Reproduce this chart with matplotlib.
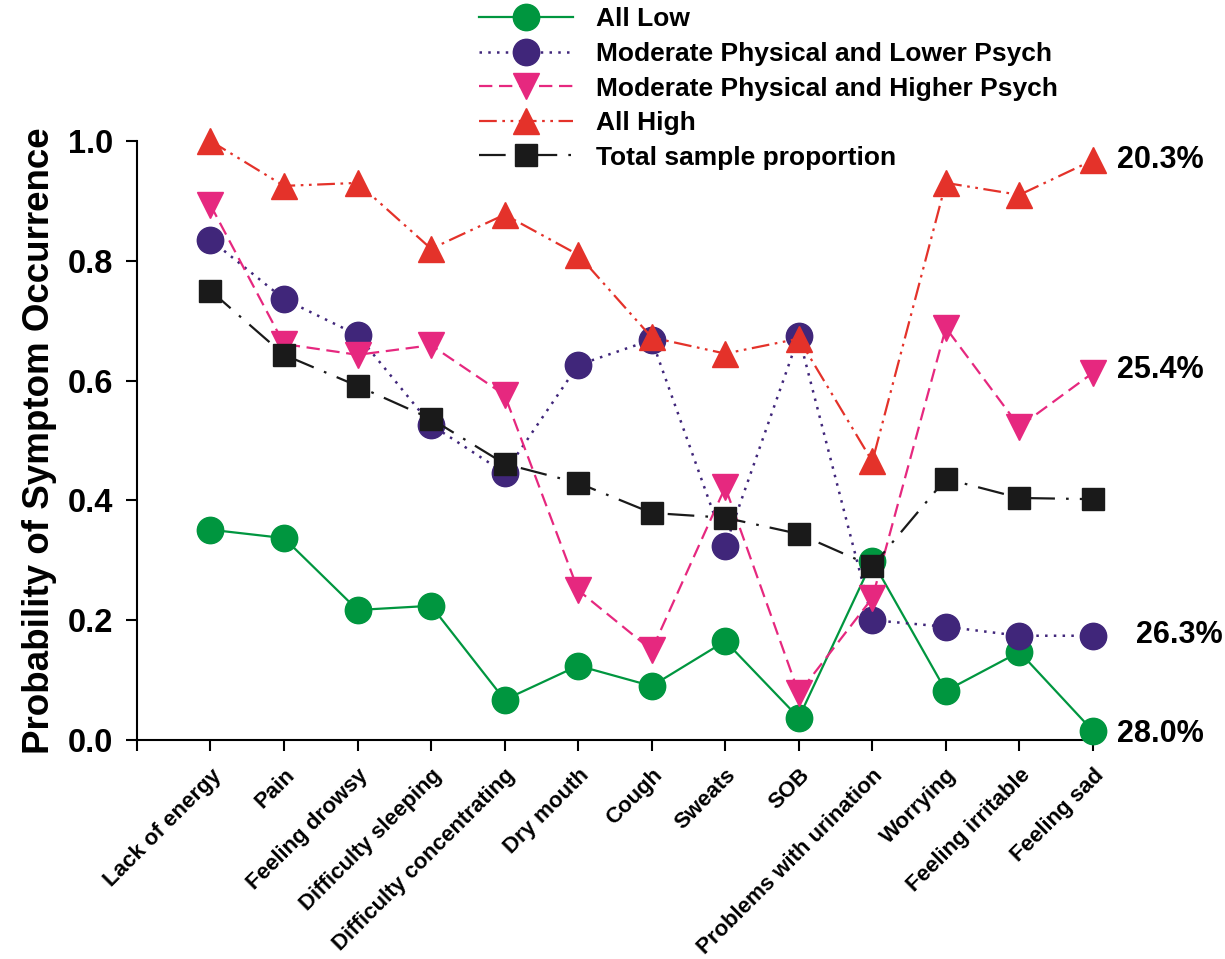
import matplotlib
matplotlib.use("Agg")
import matplotlib.pyplot as plt

plt.rcParams['font.family'] = ['Liberation Sans', 'DejaVu Sans']
plt.rcParams['font.weight'] = 'bold'

symptoms = ['Lack of energy', 'Pain', 'Feeling drowsy', 'Difficulty sleeping',
            'Difficulty concentrating', 'Dry mouth', 'Cough', 'Sweats', 'SOB',
            'Problems with urination', 'Worrying', 'Feeling irritable', 'Feeling sad']

all_low = [0.351, 0.337, 0.217, 0.224, 0.067, 0.124, 0.090, 0.165, 0.037, 0.299, 0.082, 0.147, 0.015]
mod_lower = [0.835, 0.736, 0.676, 0.526, 0.446, 0.626, 0.668, 0.324, 0.674, 0.200, 0.189, 0.174, 0.174]
mod_higher = [0.893, 0.661, 0.643, 0.659, 0.576, 0.250, 0.150, 0.422, 0.078, 0.237, 0.688, 0.523, 0.613]
all_high = [1.000, 0.925, 0.930, 0.820, 0.877, 0.810, 0.672, 0.645, 0.670, 0.465, 0.930, 0.910, 0.968]
total = [0.750, 0.643, 0.591, 0.536, 0.461, 0.429, 0.379, 0.371, 0.344, 0.290, 0.436, 0.404, 0.402]

class_pct = ['28.0%', '26.3%', '25.4%', '20.3%']

x = list(range(1, len(symptoms) + 1))

fig = plt.figure(figsize=(12.25, 9.59), dpi=100)
ax = fig.add_axes([0.1118, 0.2284, 0.7804, 0.6246])

ax.plot(x, all_low, color='#00963f', linestyle='-', linewidth=1.6,
        marker='o', markersize=19, label='All Low', clip_on=False, zorder=3)
ax.plot(x, mod_lower, color='#40267a', linestyle=(0, (1, 2.5)), linewidth=1.8,
        marker='o', markersize=19, label='Moderate Physical and Lower Psych', clip_on=False, zorder=4)
ax.plot(x, mod_higher, color='#e6287f', linestyle=(0, (6, 3)), linewidth=1.6,
        marker='v', markersize=19, label='Moderate Physical and Higher Psych', clip_on=False, zorder=5)
ax.plot(x, all_high, color='#e4322a', linestyle=(0, (8, 2.5, 1.2, 2.5, 1.2, 2.5)), linewidth=1.6,
        marker='^', markersize=19, label='All High', clip_on=False, zorder=6)
ax.plot(x, total, color='#1a1a1a', linestyle=(0, (12, 5, 1.2, 5)), linewidth=1.6,
        marker='s', markersize=16, label='Total sample proportion', clip_on=False, zorder=7)

# class sizes next to the last point of each profile
ax.text(13.33, all_high[-1], class_pct[3], fontsize=22, fontweight='bold', va='center', ha='left')
ax.text(13.33, mod_higher[-1] + 0.005, class_pct[2], fontsize=22, fontweight='bold', va='center', ha='left')
ax.text(13.58, mod_lower[-1] + 0.002, class_pct[1], fontsize=22, fontweight='bold', va='center', ha='left')
ax.text(13.33, all_low[-1] - 0.005, class_pct[0], fontsize=22, fontweight='bold', va='center', ha='left')

ax.set_xlim(0, 13)
ax.set_ylim(0, 1.0)
ax.set_xticks(range(0, 14))
ax.set_xticklabels([''] + symptoms, rotation=45, ha='right', rotation_mode='anchor',
                   fontsize=16, fontweight='bold')
ax.set_yticks([0, 0.2, 0.4, 0.6, 0.8, 1.0])
ax.set_yticklabels(['0.0', '0.2', '0.4', '0.6', '0.8', '1.0'], fontsize=23.5, fontweight='bold')
ax.tick_params(axis='both', direction='out', length=8, width=1.5, pad=6)
ax.tick_params(axis='y', pad=9)
ax.tick_params(axis='x', pad=10)
ax.set_ylabel('Probability of Symptom Occurrence', fontsize=26.5, fontweight='bold', labelpad=8)

ax.spines['top'].set_visible(False)
ax.spines['right'].set_visible(False)
ax.spines['left'].set_linewidth(1.5)
ax.spines['bottom'].set_linewidth(1.5)

fig.legend(loc='upper left', bbox_to_anchor=(0.372, 1.017), frameon=False,
           handlelength=3.55, handletextpad=0.85, labelspacing=0.4,
           prop={'weight': 'bold', 'size': 19})

fig.savefig('out.png', dpi=100)
